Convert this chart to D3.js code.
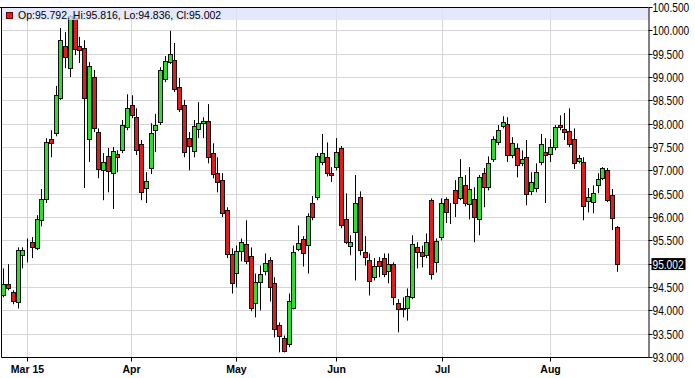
<!DOCTYPE html>
<html>
<head>
<meta charset="utf-8">
<script src="https://d3js.org/d3.v7.min.js"></script>
<style>
  body { margin: 0; background: #fff; }
  svg { display: block; font-family: "Liberation Sans", Arial, sans-serif; }
</style>
</head>
<body>
<div id="chart"></div>
<script>
// daily candles (one value per trading day)
var opens = [94.33,94.57,94.40,94.18,95.19,95.47,95.47,95.34,95.94,96.39,
  97.68,97.81,98.56,99.67,99.20,100.28,99.67,99.63,97.68,99.01,
  97.83,97.01,97.31,96.95,97.36,97.44,97.94,98.41,98.15,97.57,
  96.63,97.06,97.87,98.04,98.97,99.33,99.37,98.79,98.41,97.70,
  97.42,97.89,98.02,98.06,97.38,96.95,96.80,96.16,95.21,94.82,
  95.28,95.43,95.17,94.16,94.61,94.85,95.08,94.59,93.69,93.41,
  93.28,94.07,95.32,95.55,95.40,96.31,96.43,97.19,97.29,96.95,
  97.08,97.49,95.96,95.38,95.68,96.43,95.25,95.10,94.72,95.06,
  95.13,94.85,95.00,94.16,94.03,94.07,94.29,95.36,95.25,95.19,
  96.37,95.04,95.58,96.39,96.11,96.58,96.41,96.69,96.28,96.39,
  95.96,96.95,96.65,97.25,97.61,97.96,98.00,97.34,97.49,97.16,
  97.29,96.56,96.63,97.19,97.40,97.36,97.51,97.98,97.89,97.85,
  97.68,97.21,97.19,96.35,96.33,96.69,96.84,97.01,96.48,95.792];
var highs = [94.91,95.00,94.44,95.36,95.36,95.55,95.58,96.05,96.61,97.70,
  97.87,98.82,100.06,99.97,100.34,100.36,99.87,99.80,99.33,99.16,
  97.91,97.38,97.49,97.51,97.44,98.09,98.64,98.62,98.34,97.66,
  96.97,98.02,98.22,99.22,99.46,100.00,99.74,98.99,98.52,97.83,
  98.09,98.47,98.15,98.43,97.59,97.29,96.95,96.22,95.34,95.40,
  95.55,95.94,95.36,94.80,94.97,95.23,95.15,94.72,93.75,93.47,
  94.37,95.40,95.83,95.60,96.09,96.46,97.38,97.79,97.61,97.08,
  97.70,97.53,96.52,95.62,96.91,96.56,95.60,95.23,95.13,95.15,
  95.23,95.23,95.04,94.25,94.29,94.48,95.62,95.47,95.40,95.66,
  96.41,95.55,96.41,96.43,96.31,96.80,97.25,96.91,97.08,96.65,
  96.91,97.06,97.31,97.74,97.98,98.17,98.15,97.72,97.59,97.44,
  97.66,96.97,97.16,97.79,97.70,97.68,97.98,98.19,98.24,98.34,
  97.91,97.34,97.29,96.63,96.69,96.95,97.08,97.06,96.61,95.816];
var lows = [94.29,94.44,94.14,94.05,94.91,95.04,95.13,95.30,95.81,96.31,
  97.29,97.74,98.52,99.20,99.01,99.48,99.31,96.63,97.19,97.83,
  96.84,96.37,96.54,96.18,96.97,97.38,97.87,98.13,97.34,96.37,
  96.31,96.93,97.40,97.98,98.90,99.29,98.69,98.26,97.29,97.01,
  97.29,97.70,97.70,97.16,96.84,96.54,96.01,95.13,94.37,94.50,
  95.06,95.00,93.99,93.86,94.01,94.76,94.20,93.43,93.11,93.11,
  93.22,94.03,95.28,94.95,94.80,95.94,96.37,97.12,96.88,96.76,
  97.01,95.77,95.43,95.19,94.65,95.19,94.97,94.33,94.65,94.72,
  94.72,94.59,94.12,93.54,93.86,93.79,94.25,94.91,94.93,95.13,
  94.67,94.82,95.51,95.88,95.86,96.01,96.37,96.24,95.96,95.47,
  95.62,96.22,96.58,97.19,97.55,97.91,97.19,97.27,96.86,97.10,
  96.26,96.48,96.54,97.12,96.31,97.19,97.44,97.87,97.66,97.51,
  97.04,97.16,95.94,96.11,96.09,96.52,96.80,96.33,95.73,94.836];
var closes = [94.57,94.50,94.20,95.30,95.30,95.47,95.36,95.96,96.39,97.61,
  97.59,98.62,99.80,99.44,100.32,99.61,99.59,98.56,99.25,97.91,
  97.04,97.19,96.99,97.42,97.29,97.98,98.34,98.19,97.44,96.54,
  96.78,97.81,97.98,99.16,99.35,99.50,98.75,98.32,97.40,97.53,
  97.96,98.02,98.06,97.29,96.93,96.76,96.09,95.21,94.59,95.28,
  95.47,95.06,94.07,94.61,94.80,95.02,94.52,93.62,93.45,93.13,
  94.20,95.25,95.45,95.23,96.03,96.01,97.31,97.38,96.95,96.91,
  97.40,95.83,95.47,95.47,96.31,95.30,95.15,94.63,94.97,94.97,
  94.80,95.00,94.29,94.05,94.07,94.31,95.43,95.25,95.17,95.47,
  94.80,95.49,96.31,96.11,96.12,96.31,96.86,96.31,96.61,96.01,
  96.86,96.65,97.16,97.68,97.87,98.04,97.34,97.59,97.12,97.25,
  96.50,96.76,96.97,97.57,97.34,97.51,97.94,97.94,97.83,97.57,
  97.16,97.27,96.24,96.43,96.52,96.82,97.06,96.37,95.98,95.002];

// month ticks: position given as candle index
var monthIdx = [5, 27, 49, 70, 92.3, 115];
var monthLabels = ["Mar 15", "Apr", "May", "Jun", "Jul", "Aug"];
var priceTicks = [93, 93.5, 94, 94.5, 95, 95.5, 96, 96.5, 97, 97.5, 98, 98.5, 99, 99.5, 100, 100.5];

var width = 695, height = 378;
var plot = {left: 1.5, right: 648.5, top: 7.5, bottom: 357.5};

var data = closes.map(function(c, i) {
  return {i: i, o: opens[i], h: highs[i], l: lows[i], c: c};
});
var last = data[data.length - 1];

var svg = d3.select("#chart")
  .append("svg")
    .attr("width", width)
    .attr("height", height);

// scales
var x = d3.scaleLinear()
  .domain([0, data.length - 1])
  .range([3.3, 616.7]);
var y = d3.scaleLinear()
  .domain([93, 100.5])
  .range([plot.bottom, plot.top]);

function crisp(v) { return Math.floor(v) + 0.5; }

// grid
svg.append("g")
  .selectAll("line")
  .data(priceTicks)
  .join("line")
    .attr("x1", plot.left).attr("x2", plot.right)
    .attr("y1", function(d) { return crisp(y(d)); })
    .attr("y2", function(d) { return crisp(y(d)); })
    .attr("stroke", "#d6d6d6");
svg.append("g")
  .selectAll("line")
  .data(monthIdx)
  .join("line")
    .attr("x1", function(d) { return crisp(x(d)); })
    .attr("x2", function(d) { return crisp(x(d)); })
    .attr("y1", plot.top).attr("y2", plot.bottom)
    .attr("stroke", "#d6d6d6");

// clip candles to the plot
svg.append("clipPath").attr("id", "clip")
  .append("rect")
    .attr("x", 2).attr("y", 8)
    .attr("width", 646).attr("height", 349);

var candles = svg.append("g")
  .attr("clip-path", "url(#clip)")
  .selectAll("g")
  .data(data)
  .join("g");

// wicks
candles.append("line")
  .attr("x1", function(d) { return Math.round(x(d.i)) + 0.5; })
  .attr("x2", function(d) { return Math.round(x(d.i)) + 0.5; })
  .attr("y1", function(d) { return y(d.h); })
  .attr("y2", function(d) { return y(d.l); })
  .attr("stroke", "#000")
  .attr("stroke-width", 1);

// bodies
candles.append("rect")
  .attr("x", function(d) { return Math.round(x(d.i)) - 1.5; })
  .attr("width", 4)
  .attr("y", function(d) { return Math.round(y(Math.max(d.o, d.c))) + 0.5; })
  .attr("height", function(d) {
    return Math.max(0, Math.round(y(Math.min(d.o, d.c))) - Math.round(y(Math.max(d.o, d.c))));
  })
  .attr("fill", function(d) { return d.c >= d.o ? "#2fdc2f" : "#dc1e1e"; })
  .attr("stroke", "#111")
  .attr("stroke-width", 1);

// legend band (drawn over the candles, see-through)
svg.append("rect")
  .attr("x", plot.left).attr("y", plot.top)
  .attr("width", plot.right - plot.left).attr("height", 12.5)
  .attr("fill", "#dfe2fa")
  .attr("opacity", 0.8);
svg.append("rect")
  .attr("x", 6.5).attr("y", 12.5)
  .attr("width", 6).attr("height", 6)
  .attr("fill", "#dc1e1e")
  .attr("stroke", "#600");
svg.append("text")
  .attr("x", 18)
  .attr("y", 18.5)
  .style("font-size", "10.5px")
  .text("Op:" + last.o.toFixed(3) + ", Hi:" + last.h.toFixed(3) +
        ", Lo:" + last.l.toFixed(3) + ", Cl:" + last.c.toFixed(3));

// frame
svg.append("line")
  .attr("x1", 0).attr("x2", plot.right)
  .attr("y1", plot.top).attr("y2", plot.top)
  .attr("stroke", "#000");
svg.append("line")
  .attr("x1", plot.left).attr("x2", plot.left)
  .attr("y1", plot.top).attr("y2", plot.bottom)
  .attr("stroke", "#000");

// X axis
var xAxis = svg.append("g")
  .attr("transform", "translate(0," + plot.bottom + ")")
  .call(d3.axisBottom(x)
    .tickValues(monthIdx)
    .tickFormat(function(d, i) { return monthLabels[i]; })
    .tickSize(4)
    .tickSizeOuter(0));
xAxis.select(".domain")
  .attr("d", "M" + plot.left + ",0H" + plot.right)
  .attr("stroke", "#000");
xAxis.selectAll(".tick")
  .attr("transform", function(d) { return "translate(" + crisp(x(d)) + ",0)"; });
xAxis.selectAll("text")
  .attr("y", 8)
  .attr("fill", "#000")
  .style("font-size", "10.5px")
  .style("font-weight", "bold")
  .style("font-family", "'Liberation Sans', Arial, sans-serif");

// Y axis on the right
var yAxis = svg.append("g")
  .attr("transform", "translate(" + plot.right + ",0)")
  .call(d3.axisRight(y)
    .tickValues(priceTicks)
    .tickFormat(d3.format(".3f"))
    .tickSize(4)
    .tickSizeOuter(0));
yAxis.select(".domain").attr("stroke", "#000");
yAxis.selectAll(".tick")
  .attr("transform", function(d) { return "translate(0," + crisp(y(d)) + ")"; });
yAxis.selectAll("text")
  .attr("x", 5)
  .attr("fill", "#000")
  .attr("transform", "scale(0.8,1)")
  .style("font-size", "12.7px")
  .style("font-family", "'Liberation Sans', Arial, sans-serif");

// last close marker
var ly = y(last.c);
svg.append("rect")
  .attr("x", 651.5).attr("y", ly - 6)
  .attr("width", 34).attr("height", 12)
  .attr("fill", "#000");
svg.append("text")
  .attr("transform", "translate(652.5," + ly + ") scale(0.8,1)")
  .attr("dy", "0.36em")
  .attr("fill", "#fff")
  .style("font-size", "12.7px")
  .text(last.c.toFixed(3));
</script>
</body>
</html>
